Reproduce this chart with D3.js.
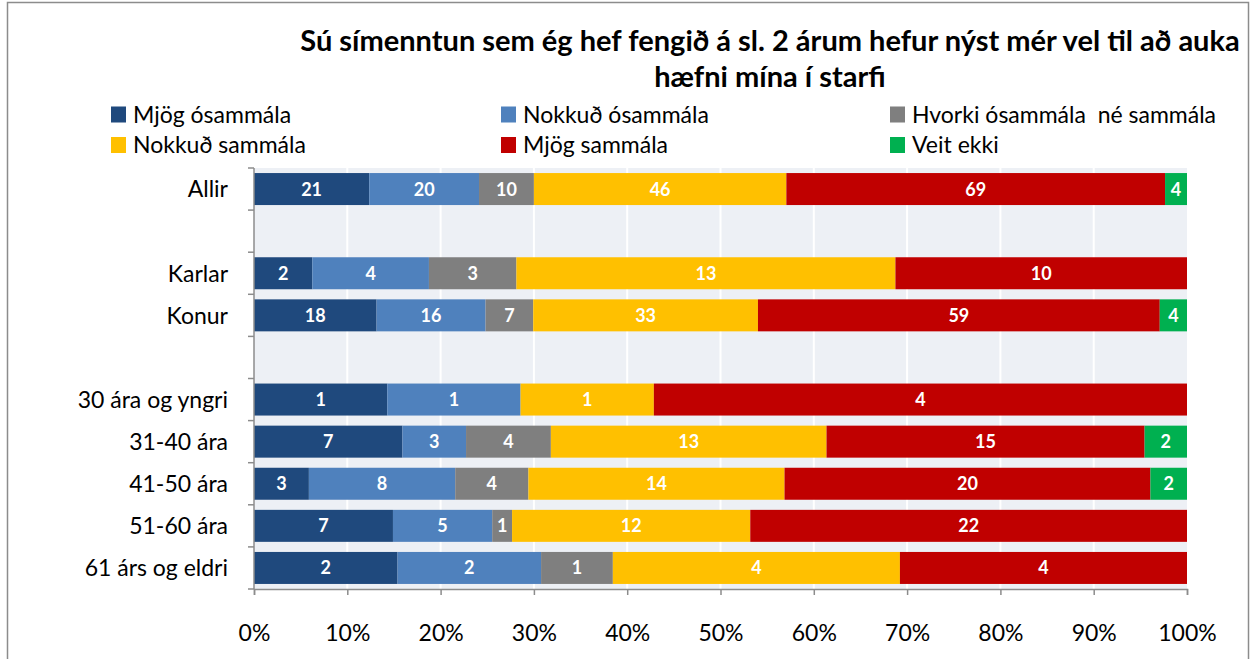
<!DOCTYPE html>
<html>
<head>
<meta charset="utf-8">
<script src="https://cdn.jsdelivr.net/npm/d3@7"></script>
<style>
  html, body { margin: 0; padding: 0; background: #fff; }
  svg { display: block; font-family: Lato, "Open Sans", sans-serif; }
</style>
</head>
<body>
<svg id="chart" width="1252" height="659"></svg>
<script>
// Categories (blank entries are spacer rows)
const categories = ["Allir", "", "Karlar", "Konur", " ", "30 ára og yngri", "31-40 ára", "41-50 ára", "51-60 ára", "61 árs og eldri"];
const seriesNames = ["Mjög ósammála", "Nokkuð ósammála", "Hvorki ósammála  né sammála", "Nokkuð sammála", "Mjög sammála", "Veit ekki"];
const seriesColors = ["#1f497d", "#4f81bd", "#7f7f7f", "#ffc000", "#c00000", "#00b050"];

// Counts per series, in category order (null = spacer row)
const mjogOsammala   = [21, null, 2, 18, null, 1, 7, 3, 7, 2];
const nokkudOsammala = [20, null, 4, 16, null, 1, 3, 8, 5, 2];
const hvorki         = [10, null, 3, 7, null, 0, 4, 4, 1, 1];
const nokkudSammala  = [46, null, 13, 33, null, 1, 13, 14, 12, 4];
const mjogSammala    = [69, null, 10, 59, null, 4, 15, 20, 22, 4];
const veitEkki       = [4, null, 0, 4, null, 0, 2, 2, 0, 0];
const seriesValues = [mjogOsammala, nokkudOsammala, hvorki, nokkudSammala, mjogSammala, veitEkki];

const xTicks = [0, 0.1, 0.2, 0.3, 0.4, 0.5, 0.6, 0.7, 0.8, 0.9, 1];
const titleLines = ["Sú símenntun sem ég hef fengið á sl. 2 árum hefur nýst mér vel til að auka", "hæfni mína í starfi"];

const svg = d3.select("#chart");

// Chart frame
svg.append("rect")
  .attr("x", 7.5).attr("y", 2.5).attr("width", 1241).attr("height", 670)
  .attr("fill", "#fff").attr("stroke", "#8c8c8c").attr("stroke-width", 1.5);

const plot = { left: 254, right: 1187, top: 168, bottom: 589 };

const x = d3.scaleLinear().domain([0, 1]).range([plot.left, plot.right]);
const y = d3.scaleBand().domain(categories).range([plot.top, plot.bottom]).paddingInner(0.24).paddingOuter(0.12);

// Plot background and vertical gridlines
svg.append("rect")
  .attr("x", plot.left).attr("y", plot.top)
  .attr("width", plot.right - plot.left).attr("height", plot.bottom - plot.top)
  .attr("fill", "#edf0f5");

svg.append("g").selectAll("line")
  .data(xTicks.slice(1, -1))
  .join("line")
  .attr("x1", d => x(d)).attr("x2", d => x(d))
  .attr("y1", plot.top).attr("y2", plot.bottom)
  .attr("stroke", "#fff").attr("stroke-width", 2);

// Stack normalized shares
const rows = categories.map((c, i) => {
  const vals = seriesValues.map(s => s[i]);
  if (vals[0] === null) return null;
  const total = d3.sum(vals);
  let acc = 0;
  return vals.map((v, k) => {
    const seg = { cat: c, k, v, x0: acc / total, x1: (acc + v) / total };
    acc += v;
    return seg;
  });
}).filter(r => r);

const segs = rows.flat().filter(d => d.v > 0);

const bars = svg.append("g");
bars.selectAll("rect")
  .data(segs)
  .join("rect")
  .attr("x", d => x(d.x0))
  .attr("y", d => y(d.cat))
  .attr("width", d => x(d.x1) - x(d.x0))
  .attr("height", y.bandwidth())
  .attr("fill", d => seriesColors[d.k]);

bars.selectAll("text")
  .data(segs)
  .join("text")
  .attr("x", d => (x(d.x0) + x(d.x1)) / 2)
  .attr("y", d => y(d.cat) + y.bandwidth() / 2)
  .attr("dy", "0.36em")
  .attr("text-anchor", "middle")
  .attr("fill", "#fff")
  .attr("font-weight", "bold")
  .attr("font-size", 18)
  .text(d => d.v);

// Y axis: line with ticks at band boundaries
const yAxis = svg.append("g").attr("stroke", "#8c8c8c").attr("stroke-width", 1.5);
yAxis.append("line").attr("x1", plot.left).attr("x2", plot.left).attr("y1", plot.top).attr("y2", plot.bottom);
const step = (plot.bottom - plot.top) / categories.length;
yAxis.selectAll("line.tick")
  .data(d3.range(categories.length + 1))
  .join("line").attr("class", "tick")
  .attr("x1", plot.left - 6).attr("x2", plot.left)
  .attr("y1", i => plot.top + i * step).attr("y2", i => plot.top + i * step);

svg.append("g").selectAll("text")
  .data(categories.filter(c => c.trim()))
  .join("text")
  .attr("x", plot.left - 26)
  .attr("y", d => y(d) + y.bandwidth() / 2)
  .attr("dy", "0.36em")
  .attr("text-anchor", "end")
  .attr("font-size", 23)
  .attr("fill", "#000")
  .text(d => d);

// X axis
const xAxis = svg.append("g")
  .attr("transform", `translate(0,${plot.bottom})`)
  .call(d3.axisBottom(x).tickValues(xTicks).tickFormat(d3.format(".0%")).tickSize(6).tickPadding(30));
xAxis.select(".domain").attr("stroke", "#8c8c8c").attr("stroke-width", 1.5);
xAxis.selectAll(".tick line").attr("stroke", "#8c8c8c").attr("stroke-width", 1.5);
xAxis.selectAll(".tick text").attr("font-size", 23).attr("fill", "#000").attr("font-family", "Lato, 'Open Sans', sans-serif");

// Title
svg.append("g").selectAll("text")
  .data(titleLines)
  .join("text")
  .attr("x", 770)
  .attr("y", (d, i) => 51 + i * 36)
  .attr("text-anchor", "middle")
  .attr("font-weight", "bold")
  .attr("font-size", 29)
  .attr("fill", "#000")
  .text(d => d);

// Legend: three columns, two rows
const legendX = [111, 501, 890];
const legendY = [114.5, 145];
const legend = svg.append("g").selectAll("g")
  .data(seriesNames)
  .join("g")
  .attr("transform", (d, i) => `translate(${legendX[i % 3]},${legendY[Math.floor(i / 3)]})`);
legend.append("rect")
  .attr("x", 0).attr("y", -8).attr("width", 15).attr("height", 16)
  .attr("fill", (d, i) => seriesColors[i]);
legend.append("text")
  .attr("x", 22).attr("y", 8)
  .attr("font-size", 23).attr("fill", "#000")
  .attr("xml:space", "preserve")
  .style("white-space", "pre")
  .text(d => d);
</script>
</body>
</html>
